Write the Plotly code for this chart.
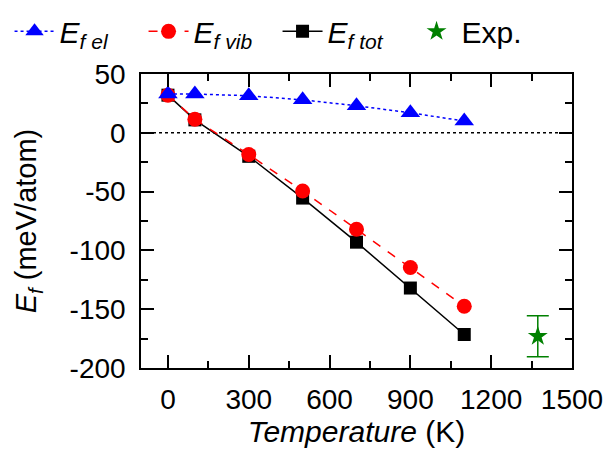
import plotly.graph_objects as go

temps = [0, 100, 300, 500, 700, 900, 1100]
ef_el = [33, 33, 31.5, 28, 23, 17, 10]
ef_vib = [32, 11.5, -18.5, -49.5, -82, -114.5, -147.5]
ef_tot = [32, 11, -20, -55.5, -93, -132, -171.5]
exp_T = [1373]
exp_E = [-173]
exp_err = [17.5]

x_tickvals = [0, 300, 600, 900, 1200, 1500]
x_ticktext = ["0", "300", "600", "900", "1200", "1500"]
y_tickvals = [50, 0, -50, -100, -150, -200]
y_ticktext = ["50", "0", "-50", "-100", "-150", "-200"]

FONT = "Liberation Sans, Arial, sans-serif"

fig = go.Figure()
fig.add_trace(go.Scatter(x=temps, y=ef_tot, mode="lines+markers", name="<i>E</i><sub><i>f tot</i></sub>",
                         line=dict(color="black", width=1.5, dash="solid"),
                         marker=dict(symbol="square", size=13, color="black"), legendrank=3))
fig.add_trace(go.Scatter(x=temps, y=ef_vib, mode="lines+markers", name="<i>E</i><sub><i>f vib</i></sub>",
                         line=dict(color="red", width=1.5, dash="dash"),
                         marker=dict(symbol="circle", size=15, color="red"), legendrank=2))
fig.add_trace(go.Scatter(x=temps, y=ef_el, mode="lines+markers", name="<i>E</i><sub><i>f el</i></sub>",
                         line=dict(color="blue", width=1.5, dash="dot"),
                         marker=dict(symbol="triangle-up", size=17, color="blue"), legendrank=1))
fig.add_trace(go.Scatter(x=exp_T, y=exp_E, mode="markers", name="Exp.",
                         marker=dict(symbol="star", size=15, color="green"),
                         error_y=dict(type="data", array=exp_err, visible=True, color="green",
                                      thickness=1.5, width=11), legendrank=4))

fig.add_shape(type="line", xref="paper", x0=0, x1=1, yref="y", y0=0, y1=0,
              line=dict(color="black", width=1.5, dash="dot"), layer="below")

axis_common = dict(showgrid=False, zeroline=False, showline=True, linecolor="black", linewidth=1.5,
                   mirror="ticks", ticks="inside", ticklen=13, tickwidth=1.5, tickcolor="black",
                   tickfont=dict(family=FONT, size=28, color="black"))

fig.update_xaxes(range=[-100, 1500], tickvals=x_tickvals, ticktext=x_ticktext,
                 minor=dict(dtick=150, tick0=0, ticks="inside", ticklen=7, tickwidth=1.5, tickcolor="black"),
                 ticklabelstandoff=6,
                 title=dict(text="<i>Temperature</i> (K)", font=dict(family=FONT, size=30, color="black"), standoff=4),
                 **axis_common)
fig.update_yaxes(range=[-200, 50], tickvals=y_tickvals, ticktext=y_ticktext,
                 minor=dict(dtick=25, tick0=0, ticks="inside", ticklen=7, tickwidth=1.5, tickcolor="black"),
                 ticklabelstandoff=8,
                 title=dict(text="<i>E</i><sub><i>f</i></sub> (meV/atom)", font=dict(family=FONT, size=29, color="black"), standoff=24),
                 **axis_common)

fig.update_layout(
    width=610, height=452,
    margin=dict(l=141, r=38, t=74, b=84, autoexpand=False),
    plot_bgcolor="white", paper_bgcolor="white",
    font=dict(family=FONT, color="black"),
    legend=dict(orientation="h", x=-0.305, xanchor="left", y=1.145, yanchor="middle",
                font=dict(family=FONT, size=30, color="black"), bgcolor="rgba(0,0,0,0)",
                itemwidth=40, tracegroupgap=0, entrywidth=79, entrywidthmode="pixels"),
)

fig.write_html("out.html")
